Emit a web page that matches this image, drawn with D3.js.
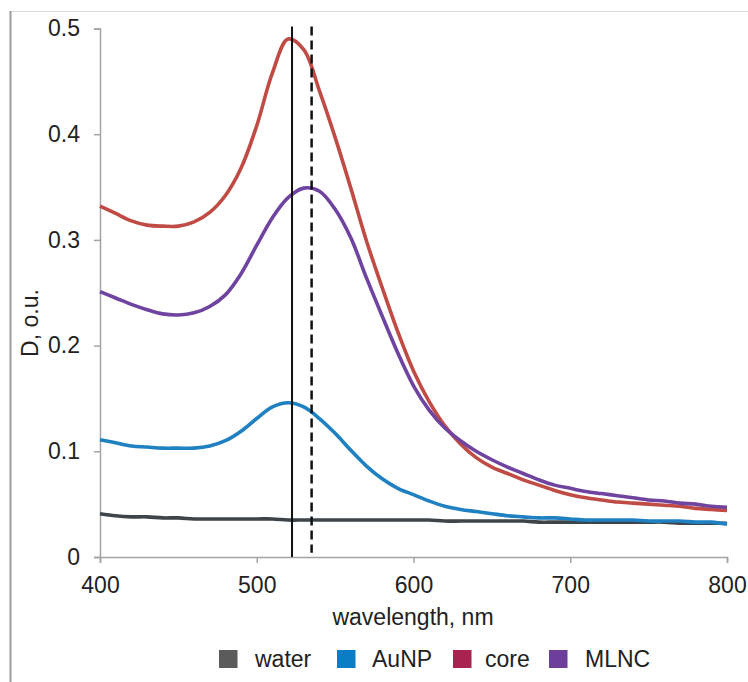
<!DOCTYPE html>
<html>
<head>
<meta charset="utf-8">
<script src="https://cdn.jsdelivr.net/npm/d3@7"></script>
<style>
  html, body { margin: 0; padding: 0; background: #fff; }
  svg { display: block; font-family: "Liberation Sans", Arial, sans-serif; }
</style>
</head>
<body>
<svg id="chart" width="748" height="682"></svg>
<script>
// wavelength, nm
const wavelengths = [400, 410, 420, 430, 440, 450, 460, 470, 480, 490,
  500, 510, 520, 530, 540, 550, 560, 570, 580, 590,
  600, 610, 620, 630, 640, 650, 660, 670, 680, 690,
  700, 710, 720, 730, 740, 750, 760, 770, 780, 790, 800];

const water = [0.041, 0.039, 0.038, 0.038, 0.037, 0.037, 0.036, 0.036, 0.036, 0.036,
  0.036, 0.036, 0.035, 0.035, 0.035, 0.035, 0.035, 0.035, 0.035, 0.035,
  0.035, 0.035, 0.034, 0.034, 0.034, 0.034, 0.034, 0.034, 0.033, 0.033,
  0.033, 0.033, 0.033, 0.033, 0.033, 0.033, 0.033, 0.032, 0.032, 0.032, 0.032];

const aunp = [0.111, 0.108, 0.105, 0.104, 0.103, 0.103, 0.103, 0.105, 0.110, 0.119,
  0.131, 0.142, 0.146, 0.142, 0.131, 0.117, 0.101, 0.086, 0.074, 0.065,
  0.059, 0.053, 0.048, 0.045, 0.043, 0.041, 0.039, 0.038, 0.037, 0.037,
  0.036, 0.035, 0.035, 0.035, 0.035, 0.034, 0.034, 0.034, 0.033, 0.033, 0.031];

const core = [0.332, 0.325, 0.318, 0.314, 0.313, 0.313, 0.317, 0.326, 0.342, 0.368,
  0.408, 0.458, 0.490, 0.480, 0.441, 0.397, 0.349, 0.299, 0.255, 0.213,
  0.176, 0.147, 0.124, 0.107, 0.094, 0.085, 0.079, 0.073, 0.068, 0.063,
  0.059, 0.056, 0.054, 0.052, 0.051, 0.050, 0.049, 0.048, 0.046, 0.045, 0.044];

const mlnc = [0.251, 0.245, 0.239, 0.234, 0.230, 0.229, 0.231, 0.237, 0.248, 0.268,
  0.295, 0.321, 0.340, 0.349, 0.346, 0.329, 0.302, 0.264, 0.228, 0.193,
  0.162, 0.139, 0.122, 0.110, 0.100, 0.092, 0.085, 0.079, 0.073, 0.068,
  0.065, 0.062, 0.060, 0.058, 0.056, 0.054, 0.053, 0.051, 0.050, 0.048, 0.047];

const seriesNames = ["water", "AuNP", "core", "MLNC"];
const seriesValues = [water, aunp, core, mlnc];
const lineColors = ["#3d454b", "#1f80c2", "#c04b44", "#6f43a0"];
const legendColors = ["#5b5b5b", "#0b7cc6", "#a8234f", "#6d3f9b"];

const xTicks = [400, 500, 600, 700, 800];
const yTicks = [0, 0.1, 0.2, 0.3, 0.4, 0.5];

// peak markers: solid and dashed
const markerWl = [522.5, 535];
const markerDash = [null, "9,5"];

const svg = d3.select("#chart");

// frame
svg.append("line").attr("x1", 10).attr("x2", 748).attr("y1", 11.5).attr("y2", 11.5)
  .attr("stroke", "#dcdcdc").attr("stroke-width", 1);
svg.append("line").attr("x1", 10.5).attr("x2", 10.5).attr("y1", 11).attr("y2", 682)
  .attr("stroke", "#9c9c9c").attr("stroke-width", 2);

const x = d3.scaleLinear().domain([400, 800]).range([100, 727]);
const y = d3.scaleLinear().domain([0, 0.5]).range([557, 28.5]);

const fmt = d => d === 0 ? "0" : d3.format(".1f")(d);

const gx = svg.append("g").attr("transform", "translate(0,557)")
  .call(d3.axisBottom(x).tickValues(xTicks).tickSize(6).tickPadding(14));
const gy = svg.append("g").attr("transform", "translate(100,0)")
  .call(d3.axisLeft(y).tickValues(yTicks).tickFormat(fmt).tickSize(6).tickPadding(14));

[gx, gy].forEach(g => {
  g.select(".domain").attr("stroke", "#a3a3a3").attr("stroke-width", 1.5);
  g.selectAll(".tick line").attr("stroke", "#a3a3a3").attr("stroke-width", 1.5);
  g.selectAll(".tick text").attr("fill", "#222").style("font-size", "23px")
    .style("font-family", "'Liberation Sans', Arial, sans-serif");
});

// curves
const line = d3.line()
  .x((d, i) => x(wavelengths[i]))
  .y(d => y(d))
  .curve(d3.curveCatmullRom.alpha(0.5));

svg.append("g").selectAll("path")
  .data(seriesValues)
  .join("path")
  .attr("d", line)
  .attr("fill", "none")
  .attr("stroke", (d, i) => lineColors[i])
  .attr("stroke-width", 3.6)
  .attr("stroke-linejoin", "round");

// vertical markers
svg.append("g").selectAll("line")
  .data(markerWl)
  .join("line")
  .attr("x1", d => x(d)).attr("x2", d => x(d))
  .attr("y1", y(0.502))
  .attr("y2", (d, i) => i === 0 ? y(0) : y(0.004))
  .attr("stroke", "#111")
  .attr("stroke-width", (d, i) => i === 0 ? 2 : 2.5)
  .attr("stroke-dasharray", (d, i) => markerDash[i]);

// axis titles
svg.append("text")
  .attr("x", 413).attr("y", 625)
  .attr("text-anchor", "middle")
  .attr("fill", "#222")
  .style("font-size", "23px")
  .text("wavelength, nm");

svg.append("text")
  .attr("transform", "translate(38,323) rotate(-90)")
  .attr("text-anchor", "middle")
  .attr("fill", "#222")
  .style("font-size", "23px")
  .text("D, o.u.");

// legend
const legendX = [219, 337, 453, 549];
const leg = svg.append("g").selectAll("g")
  .data(seriesNames)
  .join("g")
  .attr("transform", (d, i) => `translate(${legendX[i]},650)`);

leg.append("rect")
  .attr("width", 18.5).attr("height", 18)
  .attr("fill", (d, i) => legendColors[i]);

leg.append("text")
  .attr("x", (d, i) => i === 0 ? 36 : i === 1 ? 35 : i === 2 ? 32 : 36)
  .attr("y", 17)
  .attr("fill", "#222")
  .style("font-size", "23px")
  .text(d => d);
</script>
</body>
</html>
